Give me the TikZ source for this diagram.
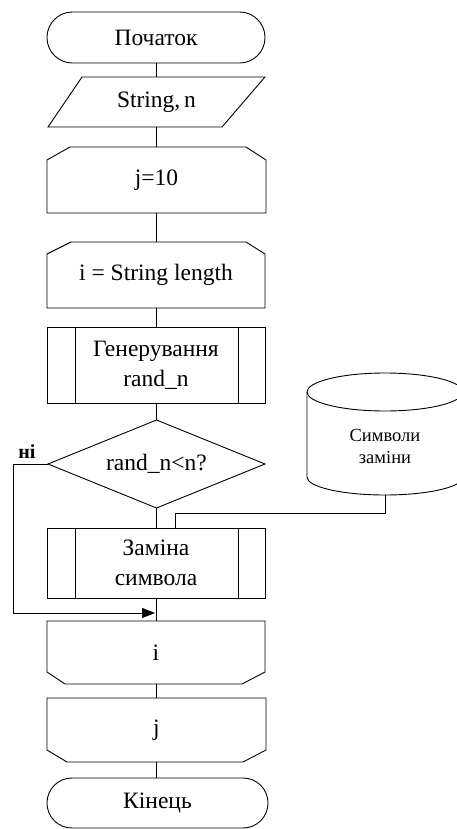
\documentclass[tikz,border=0pt]{standalone}
\usepackage{fontspec}
\setmainfont{Liberation Serif}
\newfontfamily\tnr{Liberation Serif}
\usetikzlibrary{arrows.meta}
\begin{document}
\begin{tikzpicture}[x=1pt,y=-1pt,
  every node/.style={inner sep=0pt, outer sep=0pt},
  blk/.style={minimum width=218pt, align=center, font=\tnr\fontsize{23.5}{30}\selectfont},
  small/.style={align=center, font=\tnr\fontsize{18.5}{22}\selectfont},
  ln/.style={line width=0.9pt, line join=miter},
  tip/.style={-{Triangle[length=13pt,width=10pt]}}]
\useasboundingbox (0,0) rectangle (457,829);

% terminator start
\node[blk, minimum height=51pt] (start) at (156,37.5) {Початок};
\draw[ln, rounded corners=25.4pt] (start.north west) rectangle (start.south east);

% input
\node[blk, minimum width=217pt, minimum height=50pt] (io) at (156.5,102) {String,\,n};
\draw[ln] ([xshift=34pt]io.north west) -- (io.north east) -- ([xshift=-43pt]io.south east) -- (io.south west) -- cycle;

% loop start j
\node[blk, minimum width=219pt, minimum height=66pt] (j10) at (156.5,180) {j=10};
\draw[ln] (j10.south west) -- ([yshift=-13pt]j10.north west) -- ([xshift=23pt]j10.north west) -- ([xshift=-20pt]j10.north east) -- ([yshift=-13pt]j10.north east) -- (j10.south east) -- cycle;

% loop start i
\node[blk, minimum height=66pt] (ilen) at (156,275) {i = String length};
\draw[ln] (ilen.south west) -- ([yshift=-12pt]ilen.north west) -- ([xshift=24pt]ilen.north west) -- ([xshift=-19pt]ilen.north east) -- ([yshift=-12pt]ilen.north east) -- (ilen.south east) -- cycle;

% predefined process
\node[blk, minimum height=76pt] (gen) at (156,365) {Генерування\\rand\_n};
\draw[ln] (gen.north west) rectangle (gen.south east);
\draw[ln] ([xshift=28pt]gen.north west) -- ([xshift=28pt]gen.south west);
\draw[ln] ([xshift=-27pt]gen.north east) -- ([xshift=-27pt]gen.south east);

% decision
\node[blk, minimum width=217pt, minimum height=88pt] (dec) at (156.5,464) {rand\_n<n?};
\draw[ln] (dec.west) -- (dec.north) -- (dec.east) -- (dec.south) -- cycle;
\node[font=\tnr\fontsize{20}{22}\selectfont\bfseries] (no) at (27,452) {ні};

% replacement process
\node[blk, minimum height=70pt] (zam) at (156,563) {Заміна\\символа};
\draw[ln] (zam.north west) rectangle (zam.south east);
\draw[ln] ([xshift=28pt]zam.north west) -- ([xshift=28pt]zam.south west);
\draw[ln] ([xshift=-27pt]zam.north east) -- ([xshift=-27pt]zam.south east);

% loop end i
\node[blk, minimum height=63pt] (iend) at (156,652.5) {i};
\draw[ln] (iend.north west) -- (iend.north east) -- ([yshift=12pt]iend.south east) -- ([xshift=-23pt]iend.south east) -- ([xshift=18pt]iend.south west) -- ([yshift=12pt]iend.south west) -- cycle;

% loop end j
\node[blk, minimum width=219pt, minimum height=64pt] (jend) at (156.5,730) {j};
\draw[ln] (jend.north west) -- (jend.north east) -- ([yshift=12pt]jend.south east) -- ([xshift=-23pt]jend.south east) -- ([xshift=20pt]jend.south west) -- ([yshift=12pt]jend.south west) -- cycle;

% terminator end
\node[blk, minimum width=221pt, minimum height=50pt] (end) at (157.5,803) {Кінець};
\draw[ln, rounded corners=24.9pt] (end.north west) rectangle (end.south east);

% storage cylinder
\node[small, minimum width=156pt, minimum height=98pt] (cyl) at (385,446) {Символи\\заміни};
\draw[ln] (385,392) ellipse [x radius=78pt, y radius=19pt];
\draw[ln] (307,392) -- (307,477) arc [start angle=180, end angle=360, x radius=78pt, y radius=18pt] -- (463,392);

% connectors
\draw[ln] (start.south) -- (start.south |- io.north);
\draw[ln] (io.south) -- (io.south |- j10.north);
\draw[ln] (j10.south) -- (j10.south |- ilen.north);
\draw[ln] (ilen.south) -- (ilen.south |- gen.north);
\draw[ln] (gen.south) -- (gen.south |- dec.north);
\draw[ln] (dec.south) -- (dec.south |- zam.north);
\draw[ln] (zam.south) -- (zam.south |- iend.north);
\draw[ln] (iend.south) -- (iend.south |- jend.north);
\draw[ln] (jend.south) -- (jend.south |- end.north);
\draw[ln] (cyl.south) -- ++(0,18) -| ([xshift=19pt]zam.north);
\coordinate (m) at (155,613);
\draw[ln, tip] (dec.west) -- ++(-35,0) |- (m);
\end{tikzpicture}
\end{document}
